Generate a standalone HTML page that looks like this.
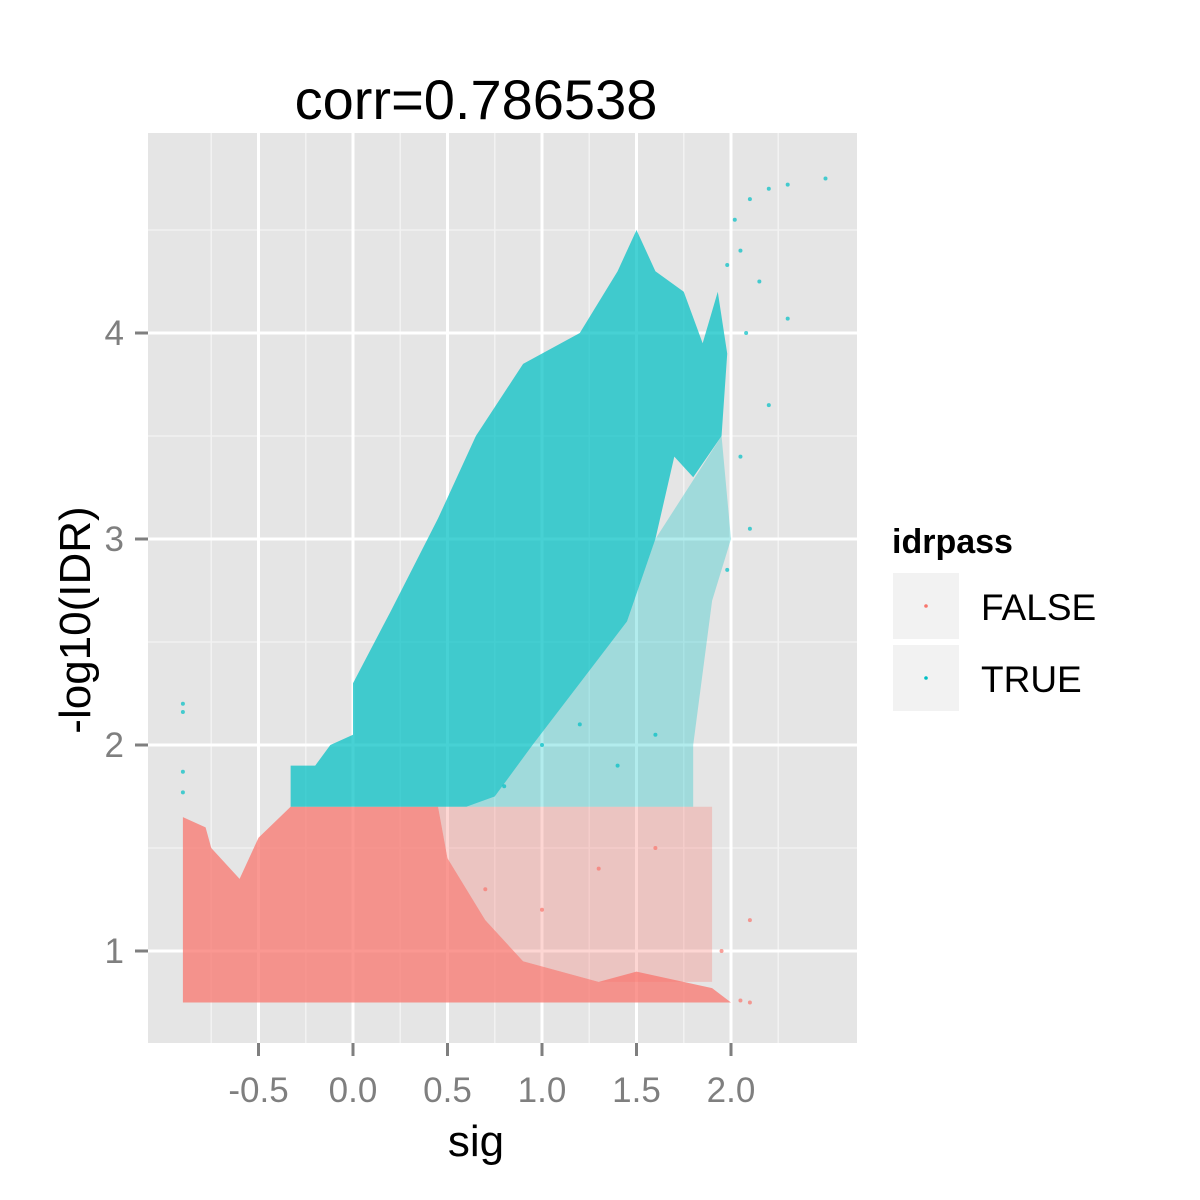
<!DOCTYPE html>
<html><head><meta charset="utf-8"><style>
body{margin:0;background:#fff}
svg{display:block;font-family:"Liberation Sans",sans-serif}
</style></head><body>
<svg id="chart" width="1200" height="1200" viewBox="0 0 1200 1200">
<rect x="148" y="133" width="709" height="910" fill="#e5e5e5"/>
<g id="grid"></g>
<g id="marks"></g>
<g id="axes"></g>
<text x="476" y="119" font-size="56" text-anchor="middle">corr=0.786538</text>
<text x="476" y="1156" font-size="44" text-anchor="middle">sig</text>
<text transform="translate(90,620) rotate(-90)" font-size="44" text-anchor="middle">-log10(IDR)</text>
<g>
<text x="892" y="553" font-size="34" font-weight="bold">idrpass</text>
<g>
<rect x="893" y="573" width="66" height="66" fill="#f2f2f2"/>
<circle cx="926" cy="606" r="1.8" fill="#f8766d"/>
<text x="981" y="620" font-size="37">FALSE</text></g>
<g>
<rect x="893" y="645" width="66" height="66" fill="#f2f2f2"/>
<circle cx="926" cy="678" r="1.8" fill="#00bfc4"/>
<text x="981" y="692" font-size="37">TRUE</text></g>
</g>
</svg>
<script>
const xTicks=[-0.5,0,0.5,1,1.5,2];
const xTickLabels=["-0.5","0.0","0.5","1.0","1.5","2.0"];
const yTicks=[1,2,3,4];
const yTickLabels=["1","2","3","4"];
const xMinor=[-0.75,-0.25,0.25,0.75,1.25,1.75,2.25];
const yMinor=[1.5,2.5,3.5,4.5];
const trueDenseX=[-0.33,-0.33,-0.2,-0.12,0,0,0.2,0.45,0.65,0.9,1.2,1.4,1.5,1.6,1.75,1.85,1.93,1.98,1.95,1.8,1.7,1.6,1.45,1.2,0.95,0.75,0.6];
const trueDenseY=[1.7,1.9,1.9,2.0,2.05,2.3,2.65,3.1,3.5,3.85,4.0,4.3,4.5,4.3,4.2,3.95,4.2,3.9,3.5,3.3,3.4,3.0,2.6,2.3,2.0,1.75,1.7];
const trueSparseX=[0.6,1.8,1.8,1.9,2.0,1.95,1.6,1.45,1.2,0.95,0.75];
const trueSparseY=[1.7,1.7,2.0,2.7,3.0,3.5,3.0,2.6,2.3,2.0,1.75];
const falseDenseX=[-0.9,-0.9,-0.78,-0.75,-0.6,-0.5,-0.33,0.45,0.5,0.7,0.9,1.3,1.5,1.9,2.0];
const falseDenseY=[0.75,1.65,1.6,1.5,1.35,1.55,1.7,1.7,1.45,1.15,0.95,0.85,0.9,0.82,0.75];
const falseSparseX=[0.45,1.9,1.9,1.3,0.9,0.7,0.5];
const falseSparseY=[1.7,1.7,0.85,0.85,0.95,1.15,1.45];
const truePtsX=[1.98,2.02,2.1,2.2,2.3,2.5,2.05,2.15,2.3,2.08,2.2,2.05,2.1,1.98,-0.9,-0.9,-0.9,-0.9,1.0,1.2,1.4,1.6,0.8];
const truePtsY=[4.33,4.55,4.65,4.7,4.72,4.75,4.4,4.25,4.07,4.0,3.65,3.4,3.05,2.85,2.2,2.16,1.87,1.77,2.0,2.1,1.9,2.05,1.8];
const falsePtsX=[2.1,2.1,2.05,1.95,1.0,1.3,1.6,0.7];
const falsePtsY=[1.15,0.75,0.76,1.0,1.2,1.4,1.5,1.3];

const sx=v=>353+v*189, sy=v=>951-(v-1)*206;
const NS='http://www.w3.org/2000/svg';
function mk(tag,parent,attrs){const e=document.createElementNS(NS,tag);for(const k in attrs)e.setAttribute(k,attrs[k]);parent.appendChild(e);return e;}
const grid=document.getElementById('grid'),marks=document.getElementById('marks'),axes=document.getElementById('axes');
xMinor.forEach(v=>{const l=mk('line',grid,{x1:sx(v),x2:sx(v),y1:133,y2:1043,stroke:'#f2f2f2','stroke-width':1.5});

});
yMinor.forEach(v=>{const l=mk('line',grid,{x1:148,x2:857,y1:sy(v),y2:sy(v),stroke:'#f2f2f2','stroke-width':1.5});

});
xTicks.forEach((v,i)=>{const l=mk('line',grid,{x1:sx(v),x2:sx(v),y1:133,y2:1043,stroke:'#fff','stroke-width':3});


const t=mk('line',axes,{x1:sx(v),x2:sx(v),y1:1043,y2:1056,stroke:'#7f7f7f','stroke-width':3});


const tx=mk('text',axes,{x:sx(v),y:1102,'font-size':35,'text-anchor':'middle',fill:'#7f7f7f'});tx.textContent=xTickLabels[i];

});
yTicks.forEach((v,i)=>{const l=mk('line',grid,{x1:148,x2:857,y1:sy(v),y2:sy(v),stroke:'#fff','stroke-width':3});


const t=mk('line',axes,{x1:135,x2:148,y1:sy(v),y2:sy(v),stroke:'#7f7f7f','stroke-width':3});


const tx=mk('text',axes,{x:124,y:sy(v)+12,'font-size':35,'text-anchor':'end',fill:'#7f7f7f'});tx.textContent=yTickLabels[i];

});
function poly(xs,ys,fill,op,name){const p=mk('polygon',marks,{points:xs.map((x,i)=>sx(x)+','+sy(ys[i])).join(' '),fill:fill,'fill-opacity':op});

}
poly(falseSparseX,falseSparseY,'#f8766d',0.3,'false-sparse-region');
poly(falseDenseX,falseDenseY,'#f8766d',0.75,'false-dense-region');
poly(trueSparseX,trueSparseY,'#00bfc4',0.3,'true-sparse-region');
poly(trueDenseX,trueDenseY,'#00bfc4',0.72,'true-dense-region');
function pts(xs,ys,fill,name){xs.forEach((x,i)=>{const c=mk('circle',marks,{cx:sx(x),cy:sy(ys[i]),r:2,fill:fill,'fill-opacity':0.7});

});}
pts(truePtsX,truePtsY,'#00bfc4','true-point');
pts(falsePtsX,falsePtsY,'#f8766d','false-point');
</script>
</body></html>
